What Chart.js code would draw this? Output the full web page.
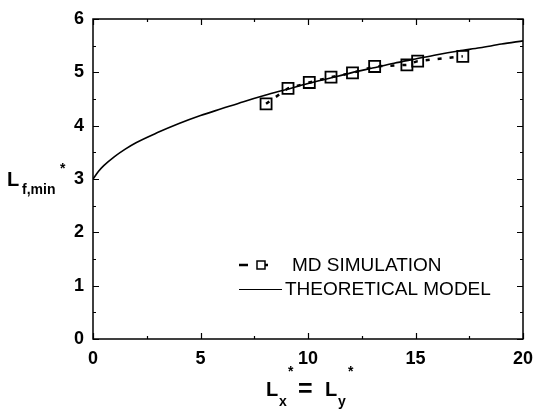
<!DOCTYPE html>
<html>
<head>
<meta charset="utf-8">
<script src="https://cdn.jsdelivr.net/npm/chart.js@4.4.0/dist/chart.umd.min.js"></script>
<style>
  html, body { margin: 0; padding: 0; background: #fff; }
  #wrap { width: 535px; height: 412px; position: relative; }
</style>
</head>
<body>
<div id="wrap"><canvas id="c"></canvas></div>
<script>
// ---- Data ----
const mdX = [8.05, 9.07, 10.06, 11.07, 12.07, 13.1, 14.6, 15.1, 17.2];
const mdY = [4.41, 4.70, 4.81, 4.91, 4.99, 5.11, 5.14, 5.21, 5.30];
const theoryX = [0, 0.25, 0.5, 1, 1.5, 2, 3, 4, 5, 6, 7, 8, 9, 10, 11, 12, 13, 14, 15, 16, 17, 18, 19, 20];
const theoryY = [3.0, 3.14, 3.25, 3.42, 3.56, 3.68, 3.87, 4.04, 4.19, 4.32, 4.45, 4.57, 4.68, 4.79, 4.89, 4.99, 5.08, 5.17, 5.25, 5.33, 5.40, 5.46, 5.53, 5.59];
const xTicks = [0, 5, 10, 15, 20];
const yTicks = [0, 1, 2, 3, 4, 5, 6];
const seriesNames = ['MD SIMULATION', 'THEORETICAL MODEL'];

const FONT = '"Liberation Sans", Arial, Helvetica, sans-serif';

const mdData = mdX.map((v, i) => ({ x: v, y: mdY[i] }));
const thData = theoryX.map((v, i) => ({ x: v, y: theoryY[i] }));

const framePlugin = {
  id: 'frame',
  afterDraw(chart) {
    const { ctx, chartArea: { left, right, top, bottom }, scales: { x, y } } = chart;
    ctx.save();
    ctx.strokeStyle = '#000';
    ctx.lineWidth = 1.5;
    ctx.strokeRect(left, top, right - left, bottom - top);
    ctx.lineWidth = 1.2;
    ctx.beginPath();
    for (let v = 0; v <= 20.001; v += 2.5) {
      const px = Math.round(x.getPixelForValue(v)) + 0.5;
      const len = (Math.abs(v % 5) < 1e-6) ? 6 : 3;
      ctx.moveTo(px, bottom); ctx.lineTo(px, bottom - len);
      ctx.moveTo(px, top); ctx.lineTo(px, top + len);
    }
    for (let v = 0; v <= 6.001; v += 0.5) {
      const py = Math.round(y.getPixelForValue(v)) + 0.5;
      const len = (Math.abs(v % 1) < 1e-6) ? 6 : 3;
      ctx.moveTo(left, py); ctx.lineTo(left + len, py);
      ctx.moveTo(right, py); ctx.lineTo(right - len, py);
    }
    ctx.stroke();

    // Axis titles
    ctx.fillStyle = '#000';
    ctx.textBaseline = 'alphabetic';
    ctx.textAlign = 'left';
    // Y title: L_{f,min}^*
    ctx.font = 'bold 20px ' + FONT;
    ctx.fillText('L', 7, 186);
    ctx.font = 'bold 14px ' + FONT;
    ctx.fillText('f,min', 22, 194);
    ctx.fillText('*', 60, 173);
    // X title: L_x^* = L_y^*
    ctx.font = 'bold 20px ' + FONT;
    ctx.fillText('L', 266, 396);
    ctx.font = 'bold 14px ' + FONT;
    ctx.fillText('x', 279, 406);
    ctx.fillText('*', 288, 376);
    ctx.font = 'bold 25px ' + FONT;
    ctx.fillText('=', 298, 397);
    ctx.font = 'bold 20px ' + FONT;
    ctx.fillText('L', 325, 396);
    ctx.font = 'bold 14px ' + FONT;
    ctx.fillText('y', 338, 406);
    ctx.fillText('*', 348, 376);

    // Legend
    const lx = left + 146;
    const ly1 = bottom - 74;
    const ly2 = bottom - 50;
    ctx.lineWidth = 2.5;
    ctx.beginPath();
    ctx.moveTo(lx, ly1); ctx.lineTo(lx + 9, ly1);
    ctx.moveTo(lx + 26, ly1); ctx.lineTo(lx + 29, ly1);
    ctx.stroke();
    ctx.lineWidth = 1.5;
    ctx.strokeRect(lx + 18, ly1 - 4, 8, 8);
    ctx.lineWidth = 1;
    ctx.beginPath();
    ctx.moveTo(lx, ly2 + 0.5); ctx.lineTo(lx + 43, ly2 + 0.5);
    ctx.stroke();
    ctx.font = '19px ' + FONT;
    ctx.textBaseline = 'middle';
    ctx.fillText(seriesNames[0], lx + 53, ly1 + 1);
    ctx.fillText(seriesNames[1], lx + 46, ly2 + 1);
    ctx.restore();
  }
};

new Chart(document.getElementById('c'), {
  type: 'scatter',
  data: {
    datasets: [
      {
        label: seriesNames[0],
        data: mdData,
        showLine: true,
        borderColor: '#000',
        borderWidth: 2.5,
        borderDash: [4, 8],
        pointStyle: 'rect',
        pointRadius: 7.8,
        pointBorderWidth: 1.8,
        pointBackgroundColor: 'rgba(0,0,0,0)',
        pointBorderColor: '#000'
      },
      {
        label: seriesNames[1],
        data: thData,
        showLine: true,
        borderColor: '#000',
        borderWidth: 1.6,
        pointRadius: 0,
        cubicInterpolationMode: 'monotone'
      }
    ]
  },
  options: {
    responsive: true,
    maintainAspectRatio: false,
    animation: false,
    devicePixelRatio: 1,
    layout: { padding: { top: 19, right: 12, left: 0, bottom: 0 } },
    plugins: { legend: { display: false }, tooltip: { enabled: false } },
    scales: {
      x: {
        type: 'linear', min: 0, max: 20,
        afterBuildTicks: (s) => { s.ticks = xTicks.map(v => ({ value: v })); },
        afterFit: (s) => { s.height = 73; s.paddingRight = 0; s.paddingLeft = 0; },
        grid: { display: false, drawTicks: false },
        border: { display: false },
        ticks: { color: '#000', padding: 9, maxRotation: 0, font: { family: FONT, size: 18, weight: 'bold' } }
      },
      y: {
        type: 'linear', min: 0, max: 6,
        afterBuildTicks: (s) => { s.ticks = yTicks.map(v => ({ value: v })); },
        afterFit: (s) => { s.width = 93; s.paddingTop = 0; s.paddingBottom = 0; },
        grid: { display: false, drawTicks: false },
        border: { display: false },
        ticks: { color: '#000', padding: 9, font: { family: FONT, size: 18, weight: 'bold' } }
      }
    }
  },
  plugins: [framePlugin]
});
</script>
</body>
</html>
